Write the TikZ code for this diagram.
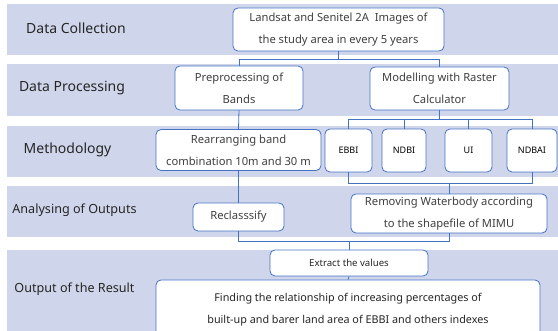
\documentclass[tikz,border=0pt]{standalone}
\usepackage{fontspec}
\setmainfont{Noto Sans}
\usetikzlibrary{positioning,calc}
\definecolor{bandfill}{RGB}{207,213,234}
\definecolor{boxline}{RGB}{68,114,196}
\definecolor{txtgrey}{RGB}{64,64,64}

\begin{document}
\begin{tikzpicture}[
  x=1pt, y=-1pt,
  every node/.style={font=\fontsize{11.2}{22}\selectfont, text=txtgrey},
  stage/.style={font=\fontsize{14}{16}\selectfont, text=black!85},
  box/.style={draw=boxline, fill=white, rounded corners=5pt, line width=.8pt,
    align=center, inner sep=0pt},
  idx/.style={box, font=\fontsize{9}{10}\selectfont\bfseries, text=black},
  link/.style={draw=boxline, line width=.8pt}
]
\useasboundingbox (0,0) rectangle (558,331);

% 段の帯
\fill[bandfill] (7,4) rectangle (558,55);
\fill[bandfill] (7,64) rectangle (558,116);
\fill[bandfill] (7,126) rectangle (558,177);
\fill[bandfill] (7,186) rectangle (558,237);
\fill[bandfill] (7,250) rectangle (558,331);

\node[stage] (collect) at (76,28) {Data Collection};
\node[stage] (process) at (72,88) {Data Processing};
\node[stage] (method) at (67.5,150) {Methodology};
\node[stage,font=\fontsize{12.6}{14}\selectfont] (analyse) at (74.5,210) {Analysing of Outputs};
\node[stage,font=\fontsize{12.6}{14}\selectfont] (output) at (74.5,289) {Output of the Result};

% 箱
\node[box, minimum width=211pt, minimum height=43pt] (src) at (338.5,29.5)
  {Landsat and Senitel 2A\ \ Images of\\the study area in every 5 years};
\node[box, minimum width=128pt, minimum height=44pt] (prep) at (239,88)
  {Preprocessing of\\Bands};
\node[box, minimum width=139pt, minimum height=43pt] (model) at (439.5,88.5)
  {Modelling with Raster\\Calculator};
\node[box, minimum width=165pt, minimum height=41pt] (rearr) at (238.5,150)
  {Rearranging band\\combination 10m and 30 m};
\node[idx, minimum width=47pt, minimum height=43pt] (ebbi) at (348.5,150.5) {EBBI};
\node[idx, minimum width=44pt, minimum height=43pt] (ndbi) at (404,150.5) {NDBI};
\node[idx, minimum width=47pt, minimum height=43pt] (ui) at (468.5,150.5) {UI};
\node[idx, minimum width=50pt, minimum height=43pt] (ndbai) at (532,150.5) {NDBAI};
\node[box, minimum width=91pt, minimum height=28pt] (recl) at (238.5,217)
  {Reclasssify};
\node[box, minimum width=196pt, minimum height=39pt] (remov) at (449,213.5)
  {Removing Waterbody according\\to the shapefile of MIMU};
\node[box, minimum width=158pt, minimum height=26pt,
  font=\fontsize{9.6}{11}\selectfont, text=black!85] (extr) at (349,263)
  {Extract the values};
\node[box, minimum width=384pt, minimum height=60pt,
  font=\fontsize{10.8}{22}\selectfont, text=black!85] (final) at (348,310)
  {Finding the relationship of increasing percentages of\\
   built-up and barer land area of EBBI and others indexes};

% 結線
\draw[link] (src.south) -- ++(0,8) -| (prep.north);
\draw[link] (src.south) -- ++(0,8) -| (model.north);
\draw[link] (prep.south) -- (rearr.north);
\foreach \n in {ebbi,ndbi,ui,ndbai}
  \draw[link] (model.south) -- ++(0,9.5) -| (\n.north);
\draw[link] (ebbi.south) -- ++(0,11) -| (remov.north);
\draw[link] (ndbai.south) -- ++(0,11) -| (remov.north);
\draw[link] (rearr.south) -- (recl.north);
\draw[link] (recl.south) -- ++(0,10) -| (extr.north);
\draw[link] (remov.south) -- ++(0,8) -| (extr.north);
\draw[link] (extr.south) -- (final.north);

\end{tikzpicture}
\end{document}
